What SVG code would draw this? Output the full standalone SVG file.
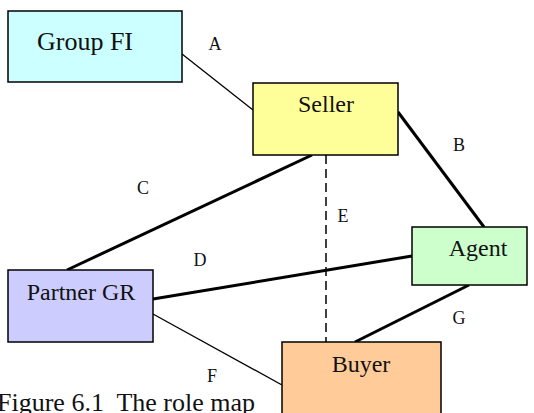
<svg xmlns="http://www.w3.org/2000/svg" width="534" height="413" viewBox="0 0 534 413">
<style>
.box{stroke:#000;stroke-width:1.5}
.t{font-family:"Liberation Serif","Times New Roman",serif;fill:#111;text-anchor:middle}
.n{font-size:24px}
.l{font-size:18px}
.thin{stroke:#000;stroke-width:1.3;fill:none}
.thick{stroke:#000;stroke-width:3;fill:none}
.dash{stroke:#000;stroke-width:1.5;fill:none;stroke-dasharray:9 5}
</style>
<rect width="534" height="413" fill="#fff"/>
<g id="connectors">
<line class="thin" x1="182" y1="54" x2="253" y2="110"/>
<line class="thick" x1="398" y1="112" x2="484" y2="227"/>
<line class="thick" x1="312" y1="155" x2="67" y2="270"/>
<line class="dash" x1="326" y1="155" x2="326" y2="342"/>
<line class="thick" x1="153" y1="299" x2="412" y2="256"/>
<line class="thin" x1="153" y1="314" x2="282" y2="385"/>
<line class="thick" x1="469" y1="285" x2="355" y2="342"/>
<text class="t l" x="215" y="50">A</text>
<text class="t l" x="459" y="151">B</text>
<text class="t l" x="143" y="194">C</text>
<text class="t l" x="200" y="266">D</text>
<text class="t l" x="343" y="222">E</text>
<text class="t l" x="212" y="382">F</text>
<text class="t l" x="459" y="324">G</text>
</g>
<g id="groupfi">
<rect class="box" x="8" y="11" width="174" height="71" fill="#ccffff"/>
<text class="t" x="85" y="50" font-size="26">Group FI</text>
</g>
<g id="seller">
<rect class="box" x="253" y="83" width="145" height="72" fill="#ffff99"/>
<text class="t n" x="326" y="112">Seller</text>
</g>
<g id="agent">
<rect class="box" x="412" y="227" width="115" height="58" fill="#ccffcc"/>
<text class="t n" x="478" y="256">Agent</text>
</g>
<g id="partnergr">
<rect class="box" x="8" y="270" width="145" height="72" fill="#ccccff"/>
<text class="t n" x="81" y="300">Partner GR</text>
</g>
<g id="buyer">
<rect class="box" x="282" y="342" width="159" height="80" fill="#ffcc99"/>
<text class="t n" x="361" y="372">Buyer</text>
</g>
<text x="-3" y="411" font-family="'Liberation Serif','Times New Roman',serif" font-size="26" fill="#111" xml:space="preserve">Figure 6.1  The role map</text>
</svg>
